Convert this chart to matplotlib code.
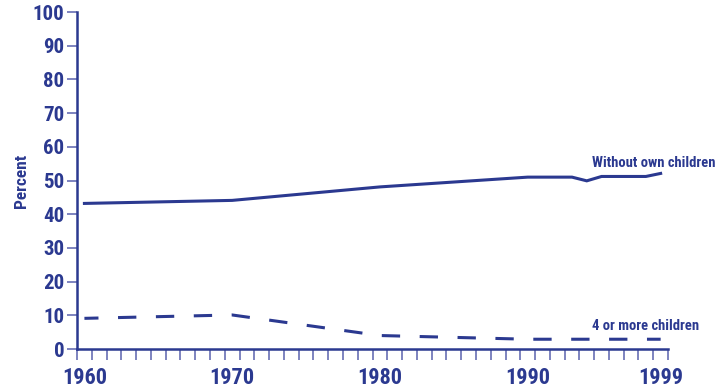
import numpy as np
import matplotlib.pyplot as plt

# data
years_without = [1960, 1970, 1980, 1990, 1993, 1994, 1995, 1998, 1999]
pct_without = [43.2, 44.1, 48.1, 51.0, 51.0, 49.9, 51.2, 51.2, 52.1]

years_four = [1960, 1970, 1980, 1990, 1999]
pct_four = [9.1, 10.1, 4.0, 2.9, 2.9]

xtick_years = [1960, 1970, 1980, 1990, 1999]
xtick_labels = ['1960', '1970', '1980', '1990', '1999']
ytick_vals = list(range(0, 101, 10))

navy = '#2b3990'
tick_col = '#5a62ad'

plt.rcParams['font.family'] = ['Roboto Condensed', 'Archivo Narrow', 'Liberation Sans Narrow', 'DejaVu Sans']
W = 'bold'

fig = plt.figure(figsize=(7.24, 3.91), dpi=100)
ax = fig.add_axes([0.1064, 0.1074, 0.9227 - 0.1064, 0.9693 - 0.1074])

ax.plot(years_without, pct_without, color=navy, lw=2.2, solid_joinstyle='miter')
ax.plot(years_four, pct_four, color=navy, lw=2.2, linestyle=(1.4, (6.0, 6.4)), dash_capstyle='butt')

ax.set_xlim(1959.5, 1999.5)
ax.set_ylim(0, 100)

for s in ['top', 'right']:
    ax.spines[s].set_visible(False)
for s in ['left', 'bottom']:
    ax.spines[s].set_color(navy)
    ax.spines[s].set_linewidth(1.8)

ax.set_xticks(xtick_years)
ax.set_xticklabels(xtick_labels)
ax.set_xticks(np.arange(1959.5, 2000, 1), minor=True)
ax.tick_params(axis='x', which='major', length=0, pad=13, labelsize=16, labelcolor=navy)
ax.tick_params(axis='x', which='minor', length=8, width=1.1, color=tick_col, direction='out')

ax.set_yticks(ytick_vals)
ax.tick_params(axis='y', which='major', length=7, width=1.1, color=tick_col, pad=2,
               labelsize=15, labelcolor=navy)
for lbl in ax.get_xticklabels() + ax.get_yticklabels():
    lbl.set_fontweight(W)

ax.set_ylabel('Percent', color=navy, fontsize=12.5, fontweight=W, labelpad=3)

ax.text(1994.35, 55.3, 'Without own children', color=navy, fontsize=10.5, fontweight=W,
        ha='left', va='center', clip_on=False)
ax.text(1994.35, 6.8, '4 or more children', color=navy, fontsize=10.5, fontweight=W,
        ha='left', va='center', clip_on=False)

fig.savefig('out.png', dpi=100)
